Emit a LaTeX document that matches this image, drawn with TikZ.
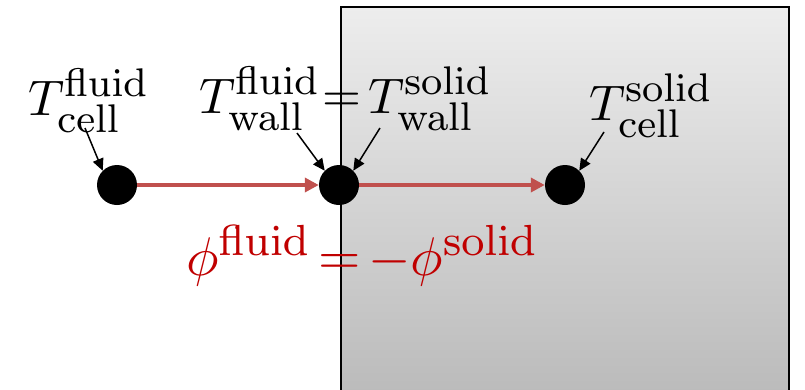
\documentclass[tikz,border=0pt]{standalone}
\usetikzlibrary{arrows.meta,shadings}
\definecolor{flux}{HTML}{C0504D}
\definecolor{lab}{HTML}{C00000}
\definecolor{boxtop}{HTML}{EDEDED}
\definecolor{boxbot}{HTML}{BBBBBB}
\DeclareMathSizes{10}{10}{8}{6}
\newcommand{\bigmath}[1]{\scalebox{5}{$#1$}}
\newcommand{\redmath}[1]{\scalebox{5.45}{$#1$}}
\tikzset{
  dot/.style={circle,fill=black,inner sep=0pt,minimum size=40pt},
  fluxarrow/.style={draw=flux,line width=4pt,-{Triangle[length=14pt,width=14pt]}},
  ptr/.style={draw=black,line width=1.5pt,-{Triangle[length=12pt,width=11pt]}},
  lbl/.style={inner sep=0pt},
}
\begin{document}
\begin{tikzpicture}[x=1pt,y=-1pt]
\useasboundingbox (0,0) rectangle (805,389);
\begin{scope}
\clip (0,0) rectangle (805,389);
\shade[top color=boxtop,bottom color=boxbot] (341,7) rectangle (789,392);
\draw[line width=1.6pt] (341,400) -- (341,7) -- (789,7) -- (789,400);
\end{scope}
\node[dot] (c1) at (117,185) {};
\node[dot] (w) at (339,185) {};
\node[dot] (c2) at (565,185) {};
\draw[fluxarrow] (c1.east) -- (w.west);
\draw[fluxarrow] (w.east) -- (c2.west);
\node[lbl,anchor=base west] (l1) at (28,115) {\bigmath{T^{\mathrm{fluid}}_{\mathrm{cell}}}};
\node[lbl,anchor=base west] (l2) at (199,113) {\bigmath{T^{\mathrm{fluid}}_{\mathrm{wall}}}};
\node[lbl] (eq1) at (342,102) {\bigmath{=}};
\node[lbl,anchor=base west] (l3) at (368,113) {\bigmath{T^{\mathrm{solid}}_{\mathrm{wall}}}};
\node[lbl,anchor=base west] (l4) at (589,120) {\bigmath{T^{\mathrm{solid}}_{\mathrm{cell}}}};
\node[lbl,anchor=base west,text=lab] (phi1) at (186,275) {\redmath{\phi^{\mathrm{fluid}}}};
\node[lbl,text=lab] (eq2) at (340,264) {\redmath{=}};
\node[lbl,anchor=base west,text=lab] (phi2) at (368,275) {\redmath{-\phi^{\mathrm{solid}}}};
\coordinate (p1) at (85,128);
\coordinate (p2) at (297,133);
\coordinate (p3) at (380,128);
\coordinate (p4) at (604,132);
\draw[ptr] (p1) -- (c1.north west);
\draw[ptr] (p2) -- (w.north west);
\draw[ptr] (p3) -- (w.north east);
\draw[ptr] (p4) -- (c2.north east);
\end{tikzpicture}
\end{document}
